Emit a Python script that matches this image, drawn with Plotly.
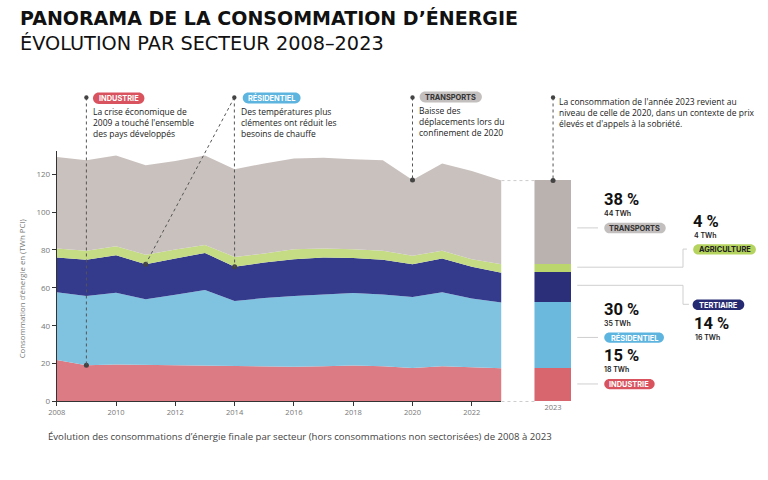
import plotly.graph_objects as go

# ---------------- data ----------------
years = list(range(2008, 2024))
industrie   = [21.9, 19.1, 19.5, 19.3, 18.8, 19.0, 18.8, 18.4, 18.3, 18.6, 19.0, 18.6, 17.7, 18.6, 18.1, 17.6]
residentiel = [35.7, 36.6, 37.9, 34.6, 37.5, 39.8, 34.2, 36.2, 37.4, 37.9, 38.2, 37.9, 37.4, 39.1, 36.2, 34.6]
tertiaire   = [18.4, 19.1, 19.8, 18.6, 19.2, 19.6, 18.1, 18.8, 19.4, 19.5, 18.5, 18.3, 17.4, 17.8, 16.8, 15.8]
agriculture = [4.7, 4.7, 4.7, 4.9, 4.7, 4.2, 5.2, 4.7, 5.2, 4.7, 4.6, 4.7, 4.4, 4.0, 4.0, 4.5]
transports  = [48.3, 47.8, 48.0, 47.3, 46.8, 47.3, 46.3, 47.5, 47.9, 48.0, 47.5, 47.8, 40.0, 46.1, 46.5, 44.1]

sectors = ["Industrie", "Résidentiel", "Tertiaire", "Agriculture", "Transports"]
series = [industrie, residentiel, tertiaire, agriculture, transports]
area_colors = ["#dc7b83", "#80c3e1", "#343a8c", "#c5dc85", "#c9c1be"]
bar_colors = ["#d8666f", "#6bbadd", "#2b2e79", "#bcd66e", "#bab2ae"]

pct_labels = ["15 %", "30 %", "14 %", "4 %", "38 %"]
twh_labels = ["18 TWh", "35 TWh", "16 TWh", "4 TWh", "44 TWh"]
pill_labels = ["INDUSTRIE", "RÉSIDENTIEL", "TERTIAIRE", "AGRICULTURE", "TRANSPORTS"]
pill_colors = ["#d9535f", "#5cb4df", "#262a72", "#b5d35f", "#c3bfbe"]
pill_text_colors = ["white", "white", "white", "#222222", "#333333"]

x_ticks = list(range(2008, 2023, 2))
y_ticks = [0, 20, 40, 60, 80, 100, 120]
YMAX = 132

W, H = 768, 480
def px(x): return x / W
def py(y): return 1 - y / H

XD = [px(48.3), px(498.3)]
X2D = [px(531.7), px(569.3)]
YD = [py(405.7), py(153)]

def xp(year):
    return XD[0] + (year - 2008) / 15 * (XD[1] - XD[0])
def yp(v):
    return YD[0] + v / YMAX * (YD[1] - YD[0])

def cum(idx, upto):
    return sum(s[idx] for s in series[:upto + 1])

fig = go.Figure()
for name, s, c in zip(sectors, series, area_colors):
    fig.add_trace(go.Scatter(x=years, y=s, name=name, mode="lines", stackgroup="one",
                             line=dict(width=0, color=c), fillcolor=c, hoverinfo="skip"))
for name, s, c in zip(sectors, series, bar_colors):
    fig.add_trace(go.Bar(x=["2023"], y=[s[-1]], name=name, marker=dict(color=c, line=dict(width=0)),
                         xaxis="x2", yaxis="y", width=1, hoverinfo="skip"))

i09, i11, i14, i20 = years.index(2009), years.index(2011), years.index(2014), years.index(2020)
dot_x = [2009, 2011, 2014, 2020]
dot_y = [cum(i09, 0), cum(i11, 2), cum(i14, 2), cum(i20, 4)]
fig.add_trace(go.Scatter(x=dot_x, y=dot_y, mode="markers", cliponaxis=False,
                         marker=dict(color="#444444", size=5), hoverinfo="skip"))
fig.add_trace(go.Scatter(x=["2023"], y=[cum(len(years) - 1, 4)], xaxis="x2", yaxis="y", mode="markers",
                         cliponaxis=False, marker=dict(color="#444444", size=5), hoverinfo="skip"))

shapes = []
annotations = []
DOTC = "#555555"
BODY = "Open Sans"
NUMF = "Roboto"

def dline(x0, y0, x1, y1, color=DOTC, dash="dot", width=1):
    shapes.append(dict(type="line", xref="paper", yref="paper", x0=x0, y0=y0, x1=x1, y1=y1,
                       line=dict(color=color, width=width, dash=dash)))

def dot(x, y, r=2.2):
    shapes.append(dict(type="circle", xref="paper", yref="paper",
                       x0=x - r / W, x1=x + r / W, y0=y - r / H, y1=y + r / H,
                       fillcolor="#444444", line=dict(width=0)))

def pill(x0, y0, x1, y1, color, text, tcolor, size=7.4):
    r = (y1 - y0) / 2
    ym = (y0 + y1) / 2
    k = 0.55
    p = (f"M {px(x0 + r)},{py(y0)} L {px(x1 - r)},{py(y0)} "
         f"C {px(x1 - r + k * r)},{py(y0)} {px(x1)},{py(ym - k * r)} {px(x1)},{py(ym)} "
         f"C {px(x1)},{py(ym + k * r)} {px(x1 - r + k * r)},{py(y1)} {px(x1 - r)},{py(y1)} "
         f"L {px(x0 + r)},{py(y1)} "
         f"C {px(x0 + r - k * r)},{py(y1)} {px(x0)},{py(ym + k * r)} {px(x0)},{py(ym)} "
         f"C {px(x0)},{py(ym - k * r)} {px(x0 + r - k * r)},{py(y0)} {px(x0 + r)},{py(y0)} Z")
    shapes.append(dict(type="path", xref="paper", yref="paper", path=p,
                       fillcolor=color, line=dict(width=0)))
    annotations.append(dict(xref="paper", yref="paper", x=px((x0 + x1) / 2), y=py(ym + 0.3),
                            text=text, showarrow=False, xanchor="center", yanchor="middle", borderpad=0,
                            font=dict(family="Inter", size=size, color=tcolor, weight=700)))

def txt(x, y, text, size=8, color="#222222", family=BODY, weight=400, xanchor="left", yanchor="top", pad=1):
    annotations.append(dict(xref="paper", yref="paper", x=px(x), y=py(y), text=text, showarrow=False,
                            xanchor=xanchor, yanchor=yanchor, align="left", borderpad=pad,
                            font=dict(family=family, size=size, color=color, weight=weight)))

BS = 8.5
TOPY = py(98.5)
# industrie callout
dline(xp(2009), TOPY, xp(2009), yp(dot_y[0]))
dot(xp(2009), TOPY)
pill(85, 93.5, 137, 105, pill_colors[0], "INDUSTRIE", "white")
txt(83, 105.5, "La crise économique de<br>2009 a touché l'ensemble<br>des pays développés", size=BS)
# residentiel callout
RX = px(228)
dline(RX, TOPY, xp(2014), yp(dot_y[2]))
dline(RX, TOPY, xp(2011), yp(dot_y[1]))
dot(RX, TOPY)
pill(236.5, 93.5, 295, 104.5, pill_colors[1], "RÉSIDENTIEL", "white")
txt(233, 105.5, "Des températures plus<br>clémentes ont réduit les<br>besoins de chauffe", size=BS)
# transports callout
dline(xp(2020), TOPY, xp(2020), yp(dot_y[3]))
dot(xp(2020), TOPY)
pill(415.5, 92.5, 478.5, 103.5, pill_colors[4], "TRANSPORTS", "#333333")
txt(413, 104.5, "Baisse des<br>déplacements lors du<br>confinement de 2020", size=BS)
# 2023 callout
bx = (X2D[0] + X2D[1]) / 2
dline(bx, TOPY, bx, yp(cum(len(years) - 1, 4)))
dot(bx, TOPY)
txt(554, 94.5, "La consommation de l'année 2023 revient au<br>niveau de celle de 2020, dans un contexte de prix<br>élevés et d'appels à la sobriété.", size=BS)

# gap dotted connectors
tot23 = cum(len(years) - 1, 4)
dline(XD[1], yp(tot23), X2D[0], yp(tot23), color="#cccccc")
dline(XD[1], yp(0), X2D[0], yp(0), color="#cccccc")

PS = 16.5
TS = 7

def pct_block(x, ypct, i):
    txt(x, ypct, pct_labels[i], size=PS, color="#111111", family=NUMF, weight=700, yanchor="middle", pad=0)
    txt(x + 0.5, ypct + 14, twh_labels[i], size=TS, color="#222222", family="Inter", weight=600,
        yanchor="middle", pad=0)

# right-hand labels
LC = "#cfcfcf"
# transports
dline(px(575), py(230.3), px(596), py(230.3), color=LC, dash="solid")
pct_block(601, 202, 4)
pill(602.3, 225, 664.5, 235.7, pill_colors[4], pill_labels[4], pill_text_colors[4])
# agriculture
dline(px(575), py(270), px(682), py(270), color=LC, dash="solid")
dline(px(682), py(270), px(682), py(251.7), color=LC, dash="solid")
dline(px(682), py(251.7), px(686), py(251.7), color=LC, dash="solid")
pct_block(691.5, 224, 3)
pill(692.3, 246.7, 755.7, 257.3, pill_colors[3], pill_labels[3], pill_text_colors[3])
# tertiaire
dline(px(575), py(288.3), px(682), py(288.3), color=LC, dash="solid")
dline(px(682), py(288.3), px(682), py(307.5), color=LC, dash="solid")
dline(px(682), py(307.5), px(688), py(307.5), color=LC, dash="solid")
pill(691.7, 302.7, 744, 313.3, pill_colors[2], pill_labels[2], pill_text_colors[2])
pct_block(692.5, 327, 2)
# residentiel
pct_block(601, 313, 1)
dline(px(575), py(341), px(596), py(341), color=LC, dash="solid")
pill(602.3, 336, 662.7, 346.3, pill_colors[1], pill_labels[1], pill_text_colors[1])
# industrie
pct_block(601, 359.5, 0)
dline(px(575), py(388), px(596), py(388), color=LC, dash="solid")
pill(602.3, 383, 653.3, 393.3, pill_colors[0], pill_labels[0], pill_text_colors[0])

# titles
txt(9, 18.5, "PANORAMA DE LA CONSOMMATION D’ÉNERGIE", size=19, color="#111111", family="DejaVu Sans", weight=700, yanchor="middle")
txt(9, 43.5, "ÉVOLUTION PAR SECTEUR 2008–2023", size=19.3, color="#111111", family="DejaVu Sans", weight=400, yanchor="middle")
# caption
txt(37, 441, "Évolution des consommations d’énergie finale par secteur (hors consommations non sectorisées) de 2008 à 2023",
    size=9.6, color="#444444", family=BODY, yanchor="middle")
# y axis title
annotations.append(dict(xref="paper", yref="paper", x=px(13.5), y=py(292), text="Consommation d’énergie en (TWh PCI)",
                        showarrow=False, textangle=-90, xanchor="center", yanchor="middle",
                        font=dict(family=BODY, size=7.8, color="#777777")))

fig.update_layout(
    width=W, height=H, margin=dict(l=0, r=0, t=0, b=0),
    paper_bgcolor="white", plot_bgcolor="rgba(0,0,0,0)",
    showlegend=False, barmode="stack", bargap=0,
    xaxis=dict(domain=XD, range=[2008, 2023], tickvals=x_ticks, ticks="outside", ticklen=4,
               tickcolor="#333333", showline=True, linecolor="#333333", linewidth=1,
               showgrid=False, zeroline=False, tickfont=dict(family=BODY, size=7.5, color="#777777")),
    xaxis2=dict(domain=X2D, anchor="y", type="category", range=[-0.5, 0.5], ticks="",
                showline=False, showgrid=False, zeroline=False,
                tickfont=dict(family=BODY, size=7.5, color="#777777")),
    yaxis=dict(domain=YD, range=[0, YMAX], tickvals=y_ticks, ticks="outside", ticklen=4,
               tickcolor="#333333", showline=True, linecolor="#333333", linewidth=1,
               showgrid=False, zeroline=False, tickfont=dict(family=BODY, size=8, color="#777777")),
    shapes=shapes, annotations=annotations,
)

fig.write_html("out.html", config={"displayModeBar": False},
               post_script="document.body.style.margin='0';document.body.style.overflow='hidden';")
